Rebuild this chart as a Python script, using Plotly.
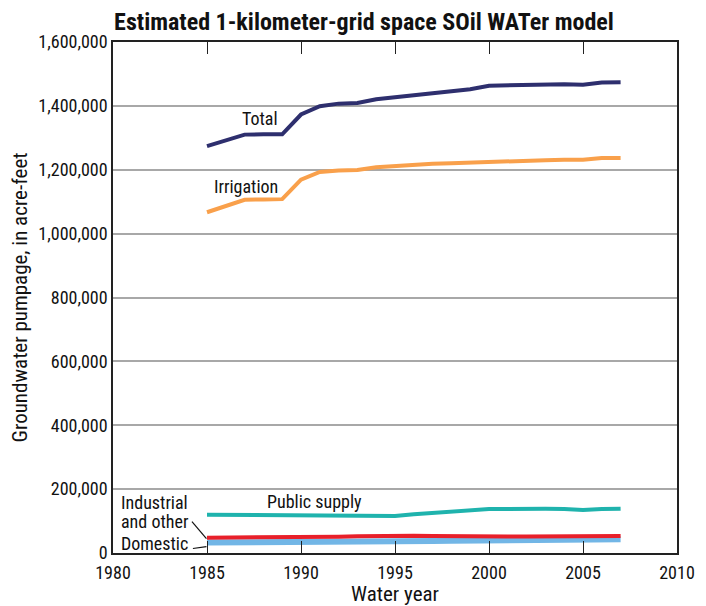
import plotly.graph_objects as go

years = list(range(1985, 2008))

total = [1274000, 1292000, 1310000, 1311000, 1311000, 1373000, 1399000, 1407000,
         1409000, 1421000, 1427000, 1435000, 1442000, 1446000, 1452000, 1463000,
         1465000, 1467000, 1468000, 1468000, 1466000, 1473000, 1474000]
irrigation = [1067000, 1087000, 1106000, 1107000, 1108000, 1169000, 1193000, 1198000,
              1199000, 1208000, 1212000, 1215000, 1219000, 1220000, 1222000, 1227000,
              1229000, 1230000, 1230000, 1231000, 1231000, 1237000, 1237000]
public_supply = [120000, 119500, 119000, 118500, 118500, 118500, 118000, 118000,
                 117500, 116500, 115500, 121000, 125000, 129000, 134000, 137500,
                 138000, 139500, 138500, 137500, 135000, 137500, 138500]
industrial = [48000, 48000, 48000, 48000, 48000, 48000, 49500, 51000,
              52500, 54000, 55000, 54000, 53000, 52000, 51000, 51000,
              51500, 52000, 52000, 52500, 52500, 53000, 53000]
domestic = [33000, 33000, 33000, 33500, 33500, 34000, 34500, 35000,
            35500, 36000, 36500, 37000, 37500, 38000, 38500, 39500,
            40000, 40500, 41000, 41500, 42000, 42500, 43000]

FONT = "Roboto Condensed, Liberation Sans Narrow, Arial Narrow, Liberation Sans, sans-serif"

fig = go.Figure()

# order matters: blue under red
series = [
    ("Domestic", domestic, "#72b6e6", 6),
    ("Industrial and other", industrial, "#e8202a", 4),
    ("Public supply", public_supply, "#1fb3ad", 4),
    ("Irrigation", irrigation, "#f9a04b", 4),
    ("Total", total, "#2e2f6e", 4),
]
for name, vals, color, w in series:
    fig.add_trace(go.Scatter(
        x=years, y=vals, mode="lines", name=name,
        line=dict(color=color, width=w),
        showlegend=False
    ))

# labels on the lines
labels = [
    ("Total", 1988.9, 1359000, "right"),
    ("Irrigation", 1988.9, 1149000, "right"),
    ("Public supply", 1988.1, 160000, "left"),
    ("Industrial", 1980.3, 159000, "left"),
    ("and other", 1980.3, 100000, "left"),
    ("Domestic", 1980.3, 31000, "left"),
]
for text, x, y, anchor in labels:
    fig.add_annotation(x=x, y=y, text=text, showarrow=False, xanchor=anchor,
                       yanchor="middle", font=dict(family=FONT, size=18, color="#111"))

# leader lines
fig.add_shape(type="line", x0=1984.2, y0=98000, x1=1984.97, y1=45000,
              line=dict(color="#111", width=1.2))
fig.add_shape(type="line", x0=1984.25, y0=14000, x1=1984.97, y1=20000,
              line=dict(color="#111", width=1.2))

# page body adds 8px margin, so the figure is 8px smaller and shifted
fig.update_layout(
    width=698, height=598,
    margin=dict(l=105, r=29, t=34, b=53),
    plot_bgcolor="white", paper_bgcolor="white",
    font=dict(family=FONT, size=18, color="#111"),
    title=dict(text="<b>Estimated 1-kilometer-grid space SOil WATer model</b>",
               x=0.445, xref="paper", xanchor="center",
               y=1 - 14 / 598, yanchor="middle",
               font=dict(family=FONT, size=24, color="#111")),
)
fig.update_xaxes(
    range=[1980, 2010], dtick=5, tick0=1980, automargin=False,
    showline=True, linecolor="#222", linewidth=1.5, mirror="ticks",
    ticks="inside", ticklen=12, tickcolor="#222", tickwidth=1.3,
    showgrid=False, zeroline=False, ticklabelstandoff=3,
    title=dict(text="Water year", font=dict(family=FONT, size=21), standoff=4),
    tickfont=dict(family=FONT, size=18),
)
fig.update_yaxes(
    range=[0, 1600000], dtick=200000, tickformat=",d", automargin=False,
    showline=True, linecolor="#222", linewidth=1.5, mirror=True,
    ticks="", showgrid=True, gridcolor="#a8a8a8", gridwidth=1.5,
    zeroline=False,
    title=dict(text="Groundwater pumpage, in acre-feet", font=dict(family=FONT, size=21), standoff=6),
    tickfont=dict(family=FONT, size=18),
)

fig.write_html("out.html")
